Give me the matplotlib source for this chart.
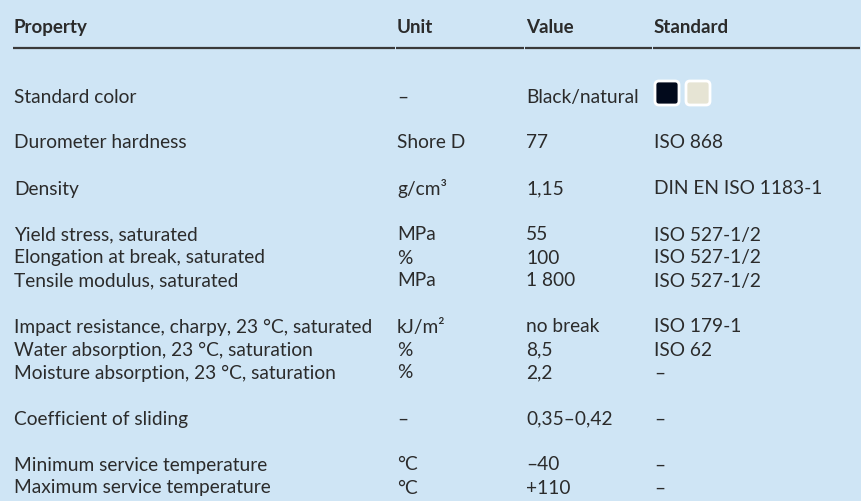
import matplotlib.pyplot as plt
from matplotlib.patches import FancyBboxPatch

plt.rcParams['font.family'] = ['Lato', 'DejaVu Sans']

headers = ['Property', 'Unit', 'Value', 'Standard']

properties = ['Standard color', 'Durometer hardness', 'Density',
              'Yield stress, saturated', 'Elongation at break, saturated',
              'Tensile modulus, saturated',
              'Impact resistance, charpy, 23 °C, saturated',
              'Water absorption, 23 °C, saturation',
              'Moisture absorption, 23 °C, saturation',
              'Coefficient of sliding',
              'Minimum service temperature', 'Maximum service temperature']
units = ['–', 'Shore D', 'g/cm³', 'MPa', '%', 'MPa', 'kJ/m²', '%', '%', '–', '°C', '°C']
values = ['Black/natural', '77', '1,15', '55', '100', '1 800', 'no break',
          '8,5', '2,2', '0,35–0,42', '–40', '+110']
standards = ['', 'ISO 868', 'DIN EN ISO 1183-1', 'ISO 527-1/2', 'ISO 527-1/2',
             'ISO 527-1/2', 'ISO 179-1', 'ISO 62', '–', '–', '–', '–']
# group index of each row (blank line between groups)
groups = [0, 1, 2, 3, 3, 3, 4, 4, 4, 5, 6, 6]
swatch_colors = ['#020a1c', '#e6e4d4']

bg = '#cfe5f5'
fg = '#2b2b2b'
col_x = [14, 397, 526, 654]

fig = plt.figure(figsize=(8.62, 5.01), dpi=100)
fig.patch.set_facecolor(bg)
ax = fig.add_axes([0, 0, 1, 1])
ax.set_xlim(0, 862)
ax.set_ylim(501, 0)
ax.axis('off')
ax.set_facecolor(bg)

# header
for x, h in zip(col_x, headers):
    ax.text(x, 27, h, fontsize=13.5, fontweight='bold', color=fg, va='center', ha='left')
ends = col_x[1:] + [862]
for x0, x1 in zip(col_x, ends):
    ax.plot([x0 - 1, x1 - 1.5], [48, 48], color='#3a3a3a', lw=1.6, solid_capstyle='butt')

# rows
y = 97
prev = groups[0]
for i in range(len(properties)):
    if i > 0:
        y += 23 if groups[i] == prev else 46
    prev = groups[i]
    row = [properties[i], units[i], values[i], standards[i]]
    for x, t in zip(col_x, row):
        ax.text(x, y, t, fontsize=13.8, color=fg, va='center', ha='left')
    if i == 0:
        for k, c in enumerate(swatch_colors):
            sx = col_x[3] + 1 + k * 31
            ax.add_patch(FancyBboxPatch((sx, y - 16), 24, 24,
                                        boxstyle='round,pad=0,rounding_size=4',
                                        fc=c, ec='white', lw=2))

fig.savefig('out.png', dpi=100, facecolor=bg)
